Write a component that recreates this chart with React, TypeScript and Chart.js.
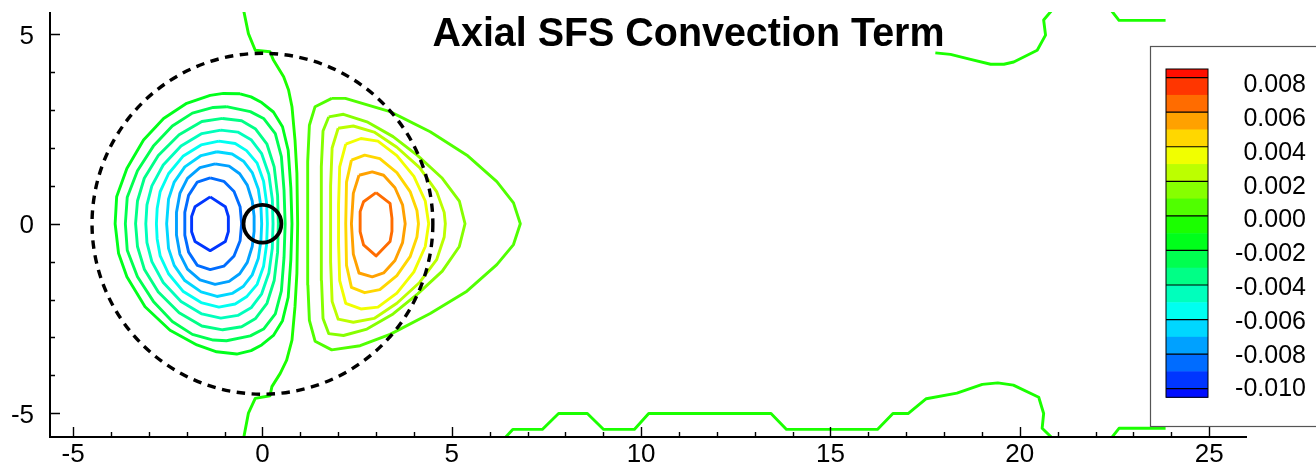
import { useEffect, useRef } from "react";
import { Chart, registerables } from "chart.js";

Chart.register(...registerables);

// ---- axes ----
const xRange = [-5.61, 26.0];
const yRange = [-5.63, 5.59];
const xMajorTicks = [-5, 0, 5, 10, 15, 20, 25];
const yMajorTicks = [-5, 0, 5];
const xMinorTicks = [-5, -4, -3, -2, -1, 0, 1, 2, 3, 4, 5, 6, 7, 8, 9, 10, 11, 12, 13, 14, 15, 16, 17, 18, 19, 20, 21, 22, 23, 24, 25];
const yMinorTicks = [-5, -4, -3, -2, -1, 0, 1, 2, 3, 4, 5];

const titleText = "Axial SFS Convection Term";

// ---- colour map / legend ----
const colorMin = -0.0105;
const colorMax = 0.0085;
const lineColorShift = -0.0005; // contour lines take the colour of the band just below their level
const bandEdges = [0.0085, 0.008, 0.007, 0.006, 0.005, 0.004, 0.003, 0.002, 0.001, 0.0, -0.001, -0.002, -0.003, -0.004, -0.005, -0.006, -0.007, -0.008, -0.009, -0.01, -0.0105];
const legendLevels = [0.008, 0.006, 0.004, 0.002, 0.0, -0.002, -0.004, -0.006, -0.008, -0.01];
const legendLabels = ["0.008", "0.006", "0.004", "0.002", "0.000", "-0.002", "-0.004", "-0.006", "-0.008", "-0.010"];

// ---- reference circles (centre x, centre y, radius) ----
const circleCentersX = [0, 0];
const circleCentersY = [0, 0];
const circleRadii = [4.5, 0.5];
const circleDashed = [true, false];

// ---- contour lines, level 0.000 ----
const zeroCentre: number[][] = [[-0.50, 5.65], [-0.37, 5.02], [-0.19, 4.58], [0.20, 4.54], [0.29, 4.32], [0.56, 3.88], [0.69, 3.53], [0.78, 3.09], [0.86, 2.21], [0.91, 1.33], [0.93, 0], [0.91, -1.31], [0.86, -2.19], [0.78, -3.07], [0.64, -3.60], [0.47, -3.95], [0.25, -4.30], [0.20, -4.54], [-0.19, -4.61], [-0.37, -5.0], [-0.50, -5.68]];
const zeroTopA: number[][] = [[17.77, 4.51], [18.17, 4.47], [18.70, 4.34], [19.23, 4.21], [19.58, 4.21], [19.84, 4.27], [20.46, 4.58], [20.68, 4.98], [20.63, 5.38], [20.86, 5.65]];
const zeroTopB: number[][] = [[22.40, 5.65], [22.62, 5.37], [23.85, 5.37]];
const zeroBottomA: number[][] = [[6.38, -5.68], [6.61, -5.43], [7.39, -5.43], [7.82, -5.01], [8.58, -5.01], [9.01, -5.43], [9.82, -5.43], [10.20, -5.01], [13.43, -5.01], [13.84, -5.43], [16.24, -5.43], [16.65, -5.01], [17.05, -5.01], [17.53, -4.62], [18.34, -4.47], [19.01, -4.24], [19.42, -4.20], [19.83, -4.26], [20.50, -4.58], [20.63, -5.01], [20.59, -5.40], [20.88, -5.68]];
const zeroBottomB: number[][] = [[22.40, -5.68], [22.62, -5.40], [23.85, -5.40]];

// ---- negative lobe, levels -0.001 ... -0.009 ----
const neg1: number[][] = [[-0.59, 3.43], [-0.30, 3.35], [-0.02, 3.20], [0.29, 2.95], [0.53, 2.56], [0.68, 1.94], [0.75, 0.95], [0.78, 0], [0.75, -0.95], [0.68, -1.94], [0.53, -2.56], [0.29, -2.95], [-0.02, -3.20], [-0.30, -3.35], [-0.68, -3.44], [-1.21, -3.38], [-1.73, -3.20], [-2.44, -2.81], [-3.10, -2.19], [-3.58, -1.40], [-3.80, -0.78], [-3.89, 0], [-3.85, 0.71], [-3.58, 1.46], [-3.14, 2.21], [-2.61, 2.78], [-2.00, 3.18], [-1.38, 3.39], [-1.03, 3.44], [-0.59, 3.43]];
const neg2: number[][] = [[-0.95, 3.09], [-0.32, 2.96], [0.03, 2.78], [0.34, 2.38], [0.50, 1.77], [0.57, 0.89], [0.60, 0], [0.57, -0.89], [0.50, -1.77], [0.34, -2.38], [0.03, -2.78], [-0.32, -2.96], [-0.95, -3.09], [-1.30, -3.07], [-1.85, -2.92], [-2.38, -2.58], [-2.88, -2.05], [-3.30, -1.40], [-3.57, -0.70], [-3.62, 0], [-3.57, 0.70], [-3.30, 1.40], [-2.88, 2.05], [-2.38, 2.58], [-1.85, 2.92], [-1.30, 3.07], [-0.95, 3.09]];
const neg3: number[][] = [[-1.05, 2.78], [-0.55, 2.72], [-0.18, 2.50], [0.12, 2.10], [0.31, 1.50], [0.40, 0.75], [0.42, 0], [0.40, -0.75], [0.31, -1.50], [0.12, -2.10], [-0.18, -2.50], [-0.55, -2.72], [-1.05, -2.80], [-1.60, -2.70], [-2.20, -2.35], [-2.75, -1.80], [-3.12, -1.20], [-3.30, -0.60], [-3.35, 0], [-3.30, 0.60], [-3.12, 1.20], [-2.75, 1.80], [-2.20, 2.35], [-1.60, 2.70], [-1.05, 2.78]];
const neg4: number[][] = [[-1.10, 2.47], [-0.65, 2.42], [-0.30, 2.22], [-0.02, 1.85], [0.17, 1.30], [0.26, 0.65], [0.28, 0], [0.26, -0.65], [0.17, -1.30], [-0.02, -1.85], [-0.30, -2.22], [-0.65, -2.42], [-1.10, -2.49], [-1.60, -2.38], [-2.15, -2.05], [-2.62, -1.55], [-2.92, -1.00], [-3.05, -0.50], [-3.08, 0], [-3.05, 0.50], [-2.92, 1.00], [-2.62, 1.55], [-2.15, 2.05], [-1.60, 2.38], [-1.10, 2.47]];
const neg5: number[][] = [[-1.15, 2.18], [-0.72, 2.12], [-0.42, 1.93], [-0.14, 1.60], [0.03, 1.12], [0.11, 0.55], [0.13, 0], [0.11, -0.55], [0.03, -1.12], [-0.14, -1.60], [-0.42, -1.93], [-0.72, -2.12], [-1.15, -2.20], [-1.62, -2.08], [-2.10, -1.78], [-2.48, -1.32], [-2.70, -0.85], [-2.78, -0.40], [-2.80, 0], [-2.78, 0.40], [-2.70, 0.85], [-2.48, 1.32], [-2.10, 1.78], [-1.62, 2.08], [-1.15, 2.18]];
const neg6: number[][] = [[-1.20, 1.90], [-0.80, 1.84], [-0.50, 1.65], [-0.27, 1.35], [-0.11, 0.92], [-0.04, 0.45], [-0.02, 0], [-0.04, -0.45], [-0.11, -0.92], [-0.27, -1.35], [-0.50, -1.65], [-0.80, -1.84], [-1.20, -1.92], [-1.62, -1.80], [-2.05, -1.50], [-2.33, -1.10], [-2.48, -0.65], [-2.53, 0], [-2.48, 0.65], [-2.33, 1.10], [-2.05, 1.50], [-1.62, 1.80], [-1.20, 1.90]];
const neg7: number[][] = [[-1.25, 1.58], [-0.88, 1.52], [-0.60, 1.32], [-0.40, 1.02], [-0.27, 0.60], [-0.22, 0.20], [-0.22, -0.20], [-0.27, -0.60], [-0.40, -1.02], [-0.60, -1.32], [-0.88, -1.52], [-1.25, -1.60], [-1.65, -1.48], [-1.98, -1.20], [-2.18, -0.80], [-2.27, -0.30], [-2.27, 0.30], [-2.18, 0.80], [-1.98, 1.20], [-1.65, 1.48], [-1.25, 1.58]];
const neg8: number[][] = [[-1.38, 1.21], [-1.02, 1.12], [-0.75, 0.85], [-0.59, 0.45], [-0.55, 0], [-0.59, -0.45], [-0.75, -0.85], [-1.02, -1.12], [-1.38, -1.21], [-1.72, -1.10], [-1.95, -0.75], [-2.05, -0.30], [-2.05, 0.30], [-1.95, 0.75], [-1.72, 1.10], [-1.38, 1.21]];
const neg9: number[][] = [[-1.38, 0.71], [-0.98, 0.45], [-0.90, 0.19], [-0.90, -0.21], [-0.98, -0.47], [-1.38, -0.71], [-1.78, -0.47], [-1.87, -0.21], [-1.87, 0.19], [-1.78, 0.45], [-1.38, 0.71]];

// ---- positive lobe, levels 0.001 ... 0.007 ----
const pos1: number[][] = [[1.83, 3.31], [2.19, 3.31], [3.37, 2.96], [4.43, 2.43], [5.40, 1.81], [6.19, 1.11], [6.63, 0.55], [6.81, 0], [6.63, -0.55], [6.19, -1.08], [5.40, -1.78], [4.43, -2.37], [3.37, -2.92], [2.58, -3.22], [1.83, -3.33], [1.39, -3.10], [1.24, -2.55], [1.20, -1.62], [1.19, 0], [1.20, 1.64], [1.24, 2.60], [1.39, 3.09], [1.83, 3.31]];
const pos2: number[][] = [[1.75, 2.82], [2.14, 2.89], [2.76, 2.69], [3.45, 2.30], [4.10, 1.80], [4.75, 1.20], [5.20, 0.60], [5.35, 0], [5.20, -0.60], [4.75, -1.25], [4.10, -1.85], [3.45, -2.38], [2.76, -2.78], [2.14, -2.95], [1.75, -2.90], [1.60, -2.50], [1.56, -1.50], [1.55, 0], [1.56, 1.50], [1.60, 2.45], [1.75, 2.82]];
const pos3: number[][] = [[2.00, 2.52], [2.40, 2.58], [2.95, 2.42], [3.55, 2.02], [4.15, 1.48], [4.60, 0.85], [4.80, 0.30], [4.83, 0], [4.80, -0.35], [4.60, -0.95], [4.15, -1.55], [3.55, -2.10], [2.95, -2.50], [2.40, -2.60], [2.00, -2.52], [1.84, -2.05], [1.80, -1.00], [1.80, 0], [1.80, 1.00], [1.84, 2.00], [2.00, 2.52]];
const pos4: number[][] = [[2.20, 2.10], [2.60, 2.25], [3.05, 2.18], [3.55, 1.80], [4.00, 1.25], [4.30, 0.60], [4.39, 0], [4.30, -0.60], [4.00, -1.27], [3.55, -1.83], [3.05, -2.20], [2.60, -2.25], [2.20, -2.10], [2.04, -1.50], [2.01, -0.50], [2.01, 0.50], [2.04, 1.50], [2.20, 2.10]];
const pos5: number[][] = [[2.35, 1.68], [2.70, 1.81], [3.10, 1.72], [3.55, 1.35], [3.90, 0.85], [4.08, 0.35], [4.12, 0], [4.08, -0.35], [3.90, -0.87], [3.55, -1.37], [3.10, -1.74], [2.70, -1.82], [2.35, -1.68], [2.22, -1.10], [2.20, 0], [2.22, 1.10], [2.35, 1.68]];
const pos6: number[][] = [[2.55, 1.28], [2.90, 1.37], [3.20, 1.28], [3.50, 0.95], [3.70, 0.50], [3.77, 0], [3.70, -0.50], [3.50, -0.97], [3.20, -1.30], [2.90, -1.40], [2.55, -1.30], [2.40, -0.80], [2.35, 0], [2.40, 0.80], [2.55, 1.28]];
const pos7: number[][] = [[3.00, 0.82], [3.37, 0.54], [3.42, 0.14], [3.42, -0.20], [3.37, -0.47], [3.00, -0.85], [2.67, -0.56], [2.58, -0.21], [2.58, 0.32], [2.67, 0.58], [3.00, 0.82]];

const contourLevels = [0, 0, 0, 0, 0, -0.001, -0.002, -0.003, -0.004, -0.005, -0.006, -0.007, -0.008, -0.009, 0.001, 0.002, 0.003, 0.004, 0.005, 0.006, 0.007];
const contourPaths = [zeroCentre, zeroTopA, zeroTopB, zeroBottomA, zeroBottomB, neg1, neg2, neg3, neg4, neg5, neg6, neg7, neg8, neg9, pos1, pos2, pos3, pos4, pos5, pos6, pos7];

const FONT = '"Liberation Sans", Arial, Helvetica, sans-serif';

function levelColor(v: number): string {
  const t = Math.min(1, Math.max(0, (v - colorMin) / (colorMax - colorMin)));
  return `hsl(${(240 * (1 - t)).toFixed(1)}, 100%, 50%)`;
}

const overlayPlugin = {
  id: "contourOverlay",
  afterDatasetsDraw(chart: any) {
    const { ctx, chartArea: a } = chart;
    const xs = chart.scales.x;
    const ys = chart.scales.y;
    ctx.save();
    ctx.beginPath();
    ctx.rect(a.left, a.top, a.right - a.left, a.bottom - a.top);
    ctx.clip();
    ctx.strokeStyle = "#000";
    for (let i = 0; i < circleRadii.length; i++) {
      const cx = xs.getPixelForValue(circleCentersX[i]);
      const cy = ys.getPixelForValue(circleCentersY[i]);
      const rx = Math.abs(xs.getPixelForValue(circleCentersX[i] + circleRadii[i]) - cx);
      const ry = Math.abs(ys.getPixelForValue(circleCentersY[i] + circleRadii[i]) - cy);
      ctx.beginPath();
      ctx.ellipse(cx, cy, rx, ry, 0, 0, Math.PI * 2);
      if (circleDashed[i]) {
        ctx.setLineDash([8.5, 6.5]);
        ctx.lineWidth = 3.4;
      } else {
        ctx.setLineDash([]);
        ctx.lineWidth = 3.8;
      }
      ctx.stroke();
    }
    ctx.restore();
  },
  afterDraw(chart: any) {
    const { ctx, chartArea: a } = chart;
    const xs = chart.scales.x;
    const ys = chart.scales.y;
    ctx.save();
    ctx.setLineDash([]);

    // axis lines
    ctx.strokeStyle = "#000";
    ctx.lineWidth = 2;
    ctx.beginPath();
    ctx.moveTo(a.left, a.top);
    ctx.lineTo(a.left, a.bottom);
    ctx.lineTo(a.right, a.bottom);
    ctx.stroke();

    // ticks (pointing into the plot)
    ctx.lineWidth = 1.4;
    ctx.beginPath();
    xMinorTicks.forEach((v) => {
      const px = Math.round(xs.getPixelForValue(v)) + 0.5;
      const len = xMajorTicks.includes(v) ? 10 : 5;
      ctx.moveTo(px, a.bottom);
      ctx.lineTo(px, a.bottom - len);
    });
    yMinorTicks.forEach((v) => {
      const py = Math.round(ys.getPixelForValue(v)) + 0.5;
      const len = yMajorTicks.includes(v) ? 10 : 5;
      ctx.moveTo(a.left, py);
      ctx.lineTo(a.left + len, py);
    });
    ctx.stroke();

    // tick labels
    ctx.fillStyle = "#000";
    ctx.font = `26px ${FONT}`;
    ctx.textBaseline = "alphabetic";
    ctx.textAlign = "center";
    xMajorTicks.forEach((v) => {
      ctx.fillText(String(v), xs.getPixelForValue(v), a.bottom + 25);
    });
    ctx.textAlign = "right";
    yMajorTicks.forEach((v) => {
      ctx.fillText(String(v), a.left - 16, ys.getPixelForValue(v) + 9.5);
    });

    // title
    ctx.font = `bold 41px ${FONT}`;
    const tw = ctx.measureText(titleText).width;
    ctx.save();
    ctx.translate(688.5, 46);
    ctx.scale(512 / tw, 1);
    ctx.textAlign = "center";
    ctx.fillText(titleText, 0, 0);
    ctx.restore();

    // legend box
    const boxL = 1150.5;
    const boxT = 46.5;
    const boxB = 426.5;
    ctx.fillStyle = "#fff";
    ctx.fillRect(boxL, boxT, 200, boxB - boxT);
    ctx.strokeStyle = "#555";
    ctx.lineWidth = 1.2;
    ctx.strokeRect(boxL, boxT, 200, boxB - boxT);

    // colour bar
    const barL = 1166;
    const barR = 1208;
    const barT = 69;
    const barB = 397.3;
    const barY = (v: number) => barT + ((colorMax - v) / (colorMax - colorMin)) * (barB - barT);
    for (let i = 0; i < bandEdges.length - 1; i++) {
      const y0 = barY(bandEdges[i]);
      const y1 = barY(bandEdges[i + 1]);
      ctx.fillStyle = levelColor((bandEdges[i] + bandEdges[i + 1]) / 2);
      ctx.fillRect(barL, y0, barR - barL, y1 - y0 + 0.5);
    }
    ctx.strokeStyle = "#000";
    ctx.lineWidth = 1.2;
    ctx.beginPath();
    legendLevels.forEach((v) => {
      const y = barY(v);
      ctx.moveTo(barL, y);
      ctx.lineTo(barR, y);
    });
    ctx.stroke();
    ctx.lineWidth = 1;
    ctx.strokeRect(barL, barT, barR - barL, barB - barT);

    // colour bar labels
    ctx.fillStyle = "#000";
    ctx.font = `25px ${FONT}`;
    ctx.textAlign = "right";
    const labTop = 83.3;
    const labBottom = 387.3;
    legendLabels.forEach((lab, i) => {
      const cy = labTop + (i * (labBottom - labTop)) / (legendLabels.length - 1);
      ctx.fillText(lab, 1306, cy + 9);
    });

    ctx.restore();
  },
};

export default function App() {
  const canvasRef = useRef<HTMLCanvasElement | null>(null);

  useEffect(() => {
    const canvas = canvasRef.current;
    if (!canvas) return;
    const datasets = contourPaths.map((path, i) => ({
      data: path.map(([x, y]) => ({ x, y })),
      showLine: true,
      borderColor: levelColor(contourLevels[i] + lineColorShift),
      borderWidth: 2.9,
      pointRadius: 0,
      pointHoverRadius: 0,
      tension: 0,
      fill: false,
      borderJoinStyle: "round" as const,
    }));
    const chart = new Chart(canvas, {
      type: "scatter",
      data: { datasets },
      options: {
        responsive: false,
        maintainAspectRatio: false,
        animation: false,
        events: [],
        layout: { padding: { left: 50, top: 12, right: 69, bottom: 28 } },
        scales: {
          x: { type: "linear", min: xRange[0], max: xRange[1], display: false },
          y: { type: "linear", min: yRange[0], max: yRange[1], display: false },
        },
        plugins: {
          legend: { display: false },
          tooltip: { enabled: false },
          title: { display: false },
        },
      },
      plugins: [overlayPlugin],
    });
    return () => chart.destroy();
  }, []);

  return (
    <div style={{ position: "fixed", left: 0, top: 0, width: 1316, height: 465, background: "#fff" }}>
      <canvas ref={canvasRef} width={1316} height={465} style={{ display: "block", width: 1316, height: 465 }} />
    </div>
  );
}
